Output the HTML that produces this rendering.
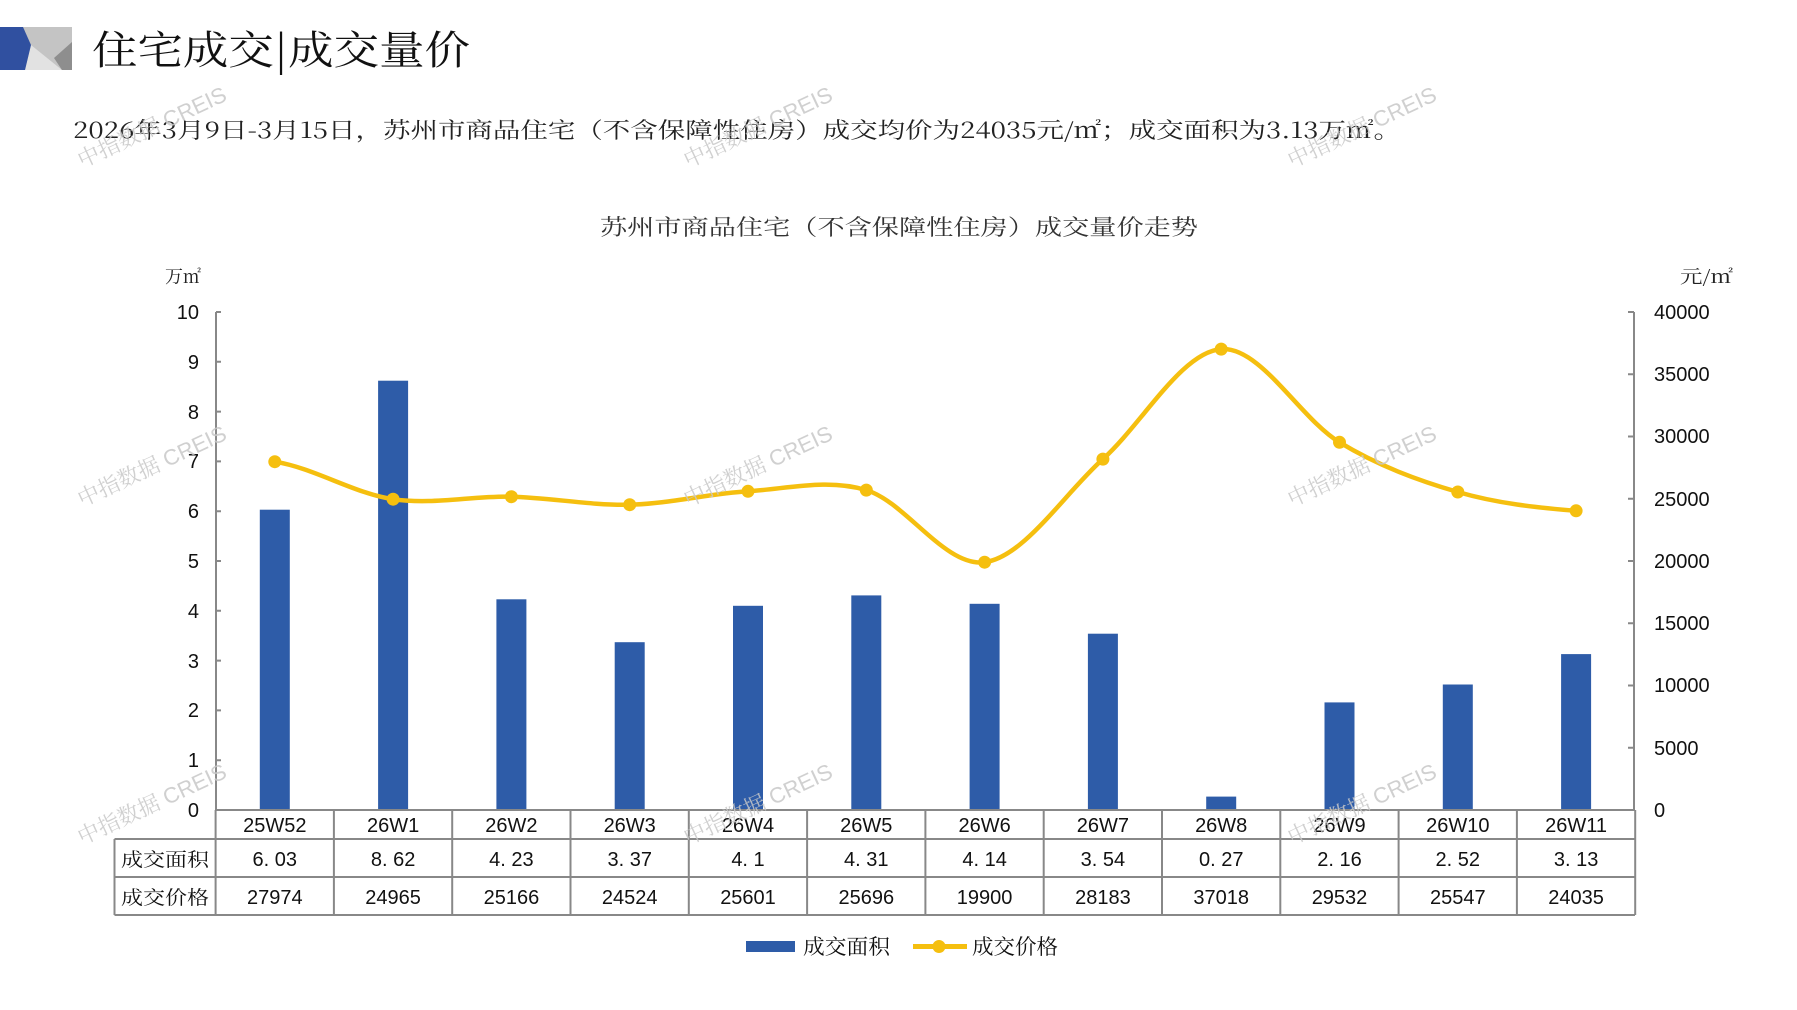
<!DOCTYPE html>
<html><head><meta charset="utf-8"><style>
html,body{margin:0;padding:0;background:#fff;}
svg{display:block;}
text{font-family:"Liberation Sans","Noto Serif CJK SC",serif;}
.k{font-family:"Noto Serif CJK SC","Noto Sans CJK SC",serif;}
.n{font-family:"Liberation Sans",sans-serif;}
</style></head><body>
<svg width="1797" height="1010" viewBox="0 0 1797 1010" xmlns="http://www.w3.org/2000/svg">
<rect x="0" y="27" width="72" height="43" fill="#c4c4c4"/>
<polygon points="31,45 25,70 62,70" fill="#e2e2e2"/>
<polygon points="72,42 72,70 62,70 54,58" fill="#8e8e8e"/>
<polygon points="0,27 23,27 31,45 25,70 0,70" fill="#3050a0"/>
<text x="92" y="64" class="k" font-size="40" fill="#111" textLength="378" lengthAdjust="spacingAndGlyphs">住宅成交|成交量价</text>
<text x="73" y="138" class="k" font-size="22" fill="#222" textLength="1328" lengthAdjust="spacingAndGlyphs">2026年3月9日-3月15日，苏州市商品住宅（不含保障性住房）成交均价为24035元/㎡；成交面积为3.13万㎡。</text>
<text x="600" y="235" class="k" font-size="22" fill="#333" textLength="598" lengthAdjust="spacingAndGlyphs">苏州市商品住宅（不含保障性住房）成交量价走势</text>
<text x="165" y="283" class="k" font-size="18" fill="#222">万㎡</text>
<text x="1680" y="283" class="k" font-size="18" fill="#222" textLength="53" lengthAdjust="spacingAndGlyphs">元/㎡</text>
<g stroke="#888" stroke-width="2" fill="none">
<line x1="216" y1="312" x2="216" y2="810"/>
<line x1="1634" y1="312" x2="1634" y2="810"/>
<path d="M216,312h5M216,361.8h5M216,411.6h5M216,461.4h5M216,511.2h5M216,561h5M216,610.8h5M216,660.6h5M216,710.4h5M216,760.2h5"/>
<path d="M1634,312h-6M1634,374.25h-6M1634,436.5h-6M1634,498.75h-6M1634,561h-6M1634,623.25h-6M1634,685.5h-6M1634,747.75h-6"/>
</g>
<g font-size="20" fill="#111" text-anchor="end" class="n">
<text x="199" y="319">10</text><text x="199" y="369">9</text><text x="199" y="419">8</text><text x="199" y="468">7</text><text x="199" y="518">6</text><text x="199" y="568">5</text><text x="199" y="618">4</text><text x="199" y="668">3</text><text x="199" y="717">2</text><text x="199" y="767">1</text><text x="199" y="817">0</text>
</g>
<g font-size="20" fill="#111" class="n">
<text x="1654" y="319">40000</text><text x="1654" y="381">35000</text><text x="1654" y="443">30000</text><text x="1654" y="506">25000</text><text x="1654" y="568">20000</text><text x="1654" y="630">15000</text><text x="1654" y="692">10000</text><text x="1654" y="755">5000</text><text x="1654" y="817">0</text>
</g>
<g fill="#2e5ca8">
<rect x="259.8" y="509.7" width="30" height="300.3"/>
<rect x="378.1" y="380.7" width="30" height="429.3"/>
<rect x="496.4" y="599.3" width="30" height="210.7"/>
<rect x="614.7" y="642.2" width="30" height="167.8"/>
<rect x="733" y="605.8" width="30" height="204.2"/>
<rect x="851.3" y="595.4" width="30" height="214.6"/>
<rect x="969.6" y="603.8" width="30" height="206.2"/>
<rect x="1087.9" y="633.7" width="30" height="176.3"/>
<rect x="1206.2" y="796.6" width="30" height="13.4"/>
<rect x="1324.5" y="702.4" width="30" height="107.6"/>
<rect x="1442.8" y="684.5" width="30" height="125.5"/>
<rect x="1561.1" y="654.1" width="30" height="155.9"/>
</g>
<path d="M274.8,461.7 C314.2,467.95 353.7,493.37 393.1,499.2 C432.5,505.03 472,495.78 511.4,496.7 C550.8,497.62 590.3,505.6 629.7,504.7 C669.1,503.8 708.6,493.73 748,491.3 C787.4,488.87 826.9,478.28 866.3,490.1 C905.7,501.92 945.2,567.37 984.6,562.2 C1024,557.03 1063.5,494.62 1102.9,459.1 C1142.3,423.58 1181.8,351.9 1221.2,349.1 C1260.6,346.3 1300.1,418.48 1339.5,442.3 C1378.9,466.12 1418.4,480.58 1457.8,492 C1497.2,503.42 1536.7,507.67 1576.1,510.8" fill="none" stroke="#f5bf0f" stroke-width="4.5"/>
<g fill="#f5bf0f">
<circle cx="274.8" cy="461.7" r="6.5"/><circle cx="393.1" cy="499.2" r="6.5"/><circle cx="511.4" cy="496.7" r="6.5"/><circle cx="629.7" cy="504.7" r="6.5"/><circle cx="748" cy="491.3" r="6.5"/><circle cx="866.3" cy="490.1" r="6.5"/><circle cx="984.6" cy="562.2" r="6.5"/><circle cx="1102.9" cy="459.1" r="6.5"/><circle cx="1221.2" cy="349.1" r="6.5"/><circle cx="1339.5" cy="442.3" r="6.5"/><circle cx="1457.8" cy="492" r="6.5"/><circle cx="1576.1" cy="510.8" r="6.5"/>
</g>
<g stroke="#888" stroke-width="2" fill="none">
<line x1="215.6" y1="810" x2="1635" y2="810"/>
<line x1="114.5" y1="839" x2="1635" y2="839"/>
<line x1="114.5" y1="877" x2="1635" y2="877"/>
<line x1="114.5" y1="915" x2="1635" y2="915"/>
<line x1="114.5" y1="839" x2="114.5" y2="915"/>
<path d="M215.6,810V915M333.9,810V915M452.2,810V915M570.5,810V915M688.8,810V915M807.1,810V915M925.4,810V915M1043.7,810V915M1162,810V915M1280.3,810V915M1398.6,810V915M1516.9,810V915M1635.2,810V915"/>
</g>
<g font-size="20" fill="#111" text-anchor="middle" class="n">
<text x="274.8" y="832">25W52</text><text x="393.1" y="832">26W1</text><text x="511.4" y="832">26W2</text><text x="629.7" y="832">26W3</text><text x="748" y="832">26W4</text><text x="866.3" y="832">26W5</text><text x="984.6" y="832">26W6</text><text x="1102.9" y="832">26W7</text><text x="1221.2" y="832">26W8</text><text x="1339.5" y="832">26W9</text><text x="1457.8" y="832">26W10</text><text x="1576.1" y="832">26W11</text>
<text x="274.8" y="866">6. 03</text><text x="393.1" y="866">8. 62</text><text x="511.4" y="866">4. 23</text><text x="629.7" y="866">3. 37</text><text x="748" y="866">4. 1</text><text x="866.3" y="866">4. 31</text><text x="984.6" y="866">4. 14</text><text x="1102.9" y="866">3. 54</text><text x="1221.2" y="866">0. 27</text><text x="1339.5" y="866">2. 16</text><text x="1457.8" y="866">2. 52</text><text x="1576.1" y="866">3. 13</text>
<text x="274.8" y="904">27974</text><text x="393.1" y="904">24965</text><text x="511.4" y="904">25166</text><text x="629.7" y="904">24524</text><text x="748" y="904">25601</text><text x="866.3" y="904">25696</text><text x="984.6" y="904">19900</text><text x="1102.9" y="904">28183</text><text x="1221.2" y="904">37018</text><text x="1339.5" y="904">29532</text><text x="1457.8" y="904">25547</text><text x="1576.1" y="904">24035</text>
</g>
<text x="121" y="866" class="k" font-size="19" fill="#111" textLength="88" lengthAdjust="spacingAndGlyphs">成交面积</text>
<text x="121" y="904" class="k" font-size="19" fill="#111" textLength="88" lengthAdjust="spacingAndGlyphs">成交价格</text>
<rect x="746" y="941" width="49" height="11" fill="#2e5ca8"/>
<text x="803" y="954" class="k" font-size="21" fill="#111" textLength="87" lengthAdjust="spacingAndGlyphs">成交面积</text>
<line x1="913" y1="946.5" x2="967" y2="946.5" stroke="#f5bf0f" stroke-width="5"/>
<circle cx="939" cy="946.5" r="6.5" fill="#f5bf0f"/>
<text x="972" y="954" class="k" font-size="21" fill="#111" textLength="86" lengthAdjust="spacingAndGlyphs">成交价格</text>
<g fill="#c8c8c8" font-size="22" opacity="0.85" class="n">
<text transform="translate(82,168) rotate(-25)">中指数据 CREIS</text>
<text transform="translate(688,168) rotate(-25)">中指数据 CREIS</text>
<text transform="translate(1292,168) rotate(-25)">中指数据 CREIS</text>
<text transform="translate(82,507) rotate(-25)">中指数据 CREIS</text>
<text transform="translate(688,507) rotate(-25)">中指数据 CREIS</text>
<text transform="translate(1292,507) rotate(-25)">中指数据 CREIS</text>
<text transform="translate(82,845) rotate(-25)">中指数据 CREIS</text>
<text transform="translate(688,845) rotate(-25)">中指数据 CREIS</text>
<text transform="translate(1292,845) rotate(-25)">中指数据 CREIS</text>
</g>
</svg>
</body></html>
